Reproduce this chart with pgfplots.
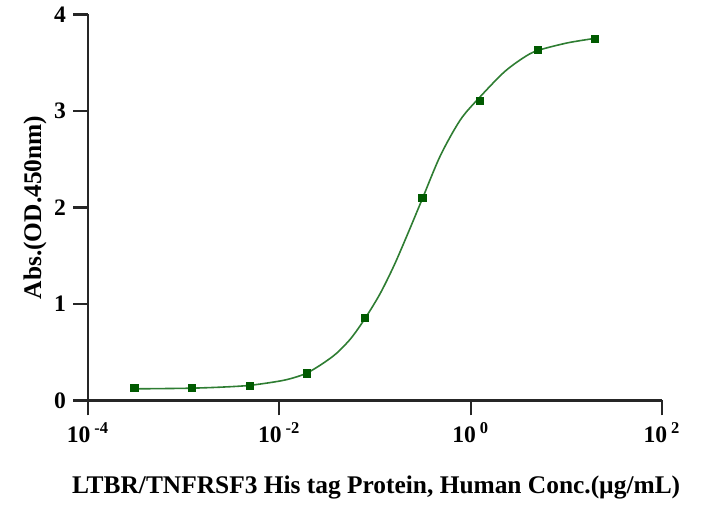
\documentclass[border=0pt]{standalone}
\usepackage{pgfplots}
\pgfplotsset{compat=1.18}
\usepackage{fontspec}
\setmainfont{Liberation Serif}

\definecolor{fitgreen}{HTML}{2E7D32}
\definecolor{ptgreen}{HTML}{005A00}

\begin{document}
\begin{tikzpicture}
  \begin{axis}[
      scale only axis,
      width=287pt, height=193pt,
      xmode=log,
      xmin=1e-4, xmax=100,
      ymin=0, ymax=4,
      xtick={1e-4,1e-2,1,100},
      xticklabels={10\,\textsuperscript{-4},10\,\textsuperscript{-2},10\,\textsuperscript{0},10\,\textsuperscript{2}},
      xminorticks=false,
      ytick={0,1,2,3,4},
      axis x line*=bottom,
      axis y line*=left,
      axis line style={line width=1.25pt, black!85},
      tick style={line width=1.1pt, black!85},
      tick align=outside,
      major tick length=7.5pt,
      /pgf/number format/assume math mode=true,
      ticklabel style={font=\fontsize{11.8}{13}\selectfont\bfseries},
      xlabel={LTBR/TNFRSF3 His tag Protein, Human Conc.(\textmu g/mL)},
      ylabel={Abs.(OD.450nm)},
      label style={font=\fontsize{12.7}{14}\selectfont\bfseries},
      xlabel style={at={(axis description cs:0.502,0)}, anchor=center, yshift=-43.5pt},
      ylabel style={at={(axis description cs:0,0.5)}, anchor=center, yshift=26.5pt},
      clip=false,
    ]
    % fitted curve
    \addplot[fitgreen, line width=0.8pt, smooth] coordinates {
      (3.05e-4, 0.120)
      (6.31e-4, 0.123)
      (1.22e-3, 0.127)
      (2.51e-3, 0.138)
      (4.89e-3, 0.156)
      (0.01, 0.200)
      (0.01413, 0.235)
      (0.01954, 0.285)
      (0.02818, 0.38)
      (0.03981, 0.49)
      (0.05623, 0.645)
      (0.07816, 0.845)
      (0.1122, 1.10)
      (0.1585, 1.40)
      (0.2239, 1.745)
      (0.3126, 2.09)
      (0.4842, 2.54)
      (0.7834, 2.91)
      (1.239, 3.14)
      (2.223, 3.40)
      (3.548, 3.55)
      (4.977, 3.625)
      (10.26, 3.705)
      (20.0, 3.752) };
    % measured points
    \addplot[only marks, mark=square*, mark size=1.8pt, ptgreen] coordinates {
      (0.000305, 0.131)
      (0.00122, 0.131)
      (0.00488, 0.149)
      (0.01953, 0.281)
      (0.0781, 0.855)
      (0.3125, 2.099)
      (1.25, 3.10)
      (5, 3.63)
      (20, 3.75) };
  \end{axis}
  \path[use as bounding box] (-44pt,-55pt) rectangle (307pt,200pt);
\end{tikzpicture}
\end{document}
